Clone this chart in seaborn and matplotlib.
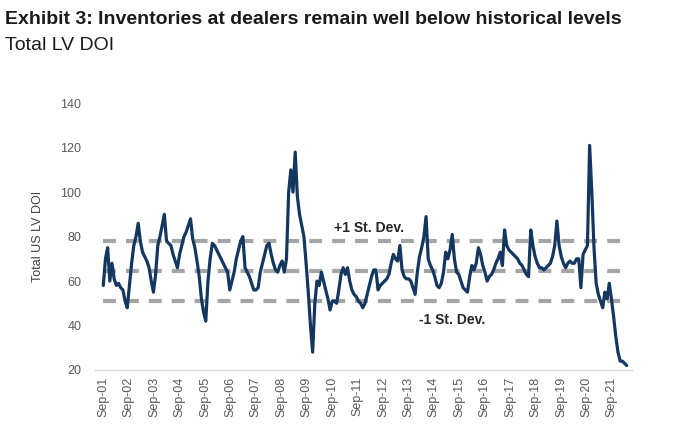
import numpy as np
import pandas as pd
import matplotlib
matplotlib.use("Agg")
import matplotlib.pyplot as plt
import seaborn as sns

# Monthly Total US LV DOI, Sep-01 .. Sep-21
doi = [
    58, 70, 75, 60, 68, 61, 58, 59, 57, 56, 51, 48,   # Sep-01 ..
    58, 68, 76, 80, 86, 78, 73, 71, 69, 66, 60, 55,   # Sep-02 ..
    63, 76, 80, 85, 90, 78, 77, 76, 72, 69, 66, 72,   # Sep-03 ..
    76, 80, 82, 85, 88, 79, 75, 69, 62, 52, 46, 42,   # Sep-04 ..
    60, 70, 77, 76, 74, 72, 70, 68, 66, 64, 56, 60,   # Sep-05 ..
    64, 70, 74, 78, 80, 66, 64, 62, 59, 56, 56, 57,   # Sep-06 ..
    64, 68, 72, 76, 77, 72, 68, 65, 64, 67, 69, 64,   # Sep-07 ..
    70, 100, 110, 100, 118, 98, 90, 85, 80, 68, 55, 40,  # Sep-08 ..
    28, 50, 60, 58, 64, 60, 56, 52, 47, 51, 51, 50,   # Sep-09 ..
    56, 63, 66, 63, 66, 60, 56, 54, 53, 51, 50, 48,   # Sep-10 ..
    50, 54, 58, 62, 65, 65, 56, 58, 59, 60, 61, 63,   # Sep-11 ..
    68, 72, 70, 69, 76, 65, 62, 61, 61, 60, 57, 54,   # Sep-12 ..
    64, 71, 75, 80, 89, 70, 67, 65, 62, 58, 57, 59,   # Sep-13 ..
    64, 73, 70, 74, 81, 70, 64, 63, 60, 57, 56, 55,   # Sep-14 ..
    62, 67, 65, 68, 75, 72, 67, 64, 60, 62, 63, 65,   # Sep-15 ..
    68, 70, 73, 67, 83, 76, 74, 73, 72, 71, 70, 68,   # Sep-16 ..
    67, 65, 63, 62, 83, 76, 71, 68, 66, 66, 65, 66,   # Sep-17 ..
    67, 68, 71, 76, 87, 76, 71, 68, 66, 68, 69, 68,   # Sep-18 ..
    68, 70, 70, 57, 72, 74, 76, 121, 100, 75, 59, 54, # Sep-19 ..
    51, 48, 55, 52, 59, 52, 44, 35, 28, 24, 24, 23,   # Sep-20 ..
    22,                                               # Sep-21
]
plus_sd = 78.0
mean_level = 64.5
minus_sd = 51.0
tick_labels = [f"Sep-{y:02d}" for y in range(1, 22)]

df = pd.DataFrame({"month": np.arange(len(doi)), "doi": doi})

sns.set_theme(style="white")
plt.rcParams["font.family"] = ["Liberation Sans", "DejaVu Sans"]

fig = plt.figure(figsize=(6.8, 4.41), dpi=100)
ax = fig.add_axes([0.140, 0.161, 0.789, 0.605])

dash_kw = dict(color="#a5a5a5", linewidth=3.0, dashes=(3.1, 2.4), zorder=1)
for lvl in (plus_sd, mean_level, minus_sd):
    ax.plot([0, 241.5], [lvl, lvl], **dash_kw)

sns.lineplot(data=df, x="month", y="doi", ax=ax, color="#14375f",
             linewidth=2.3, zorder=3)

ax.set_xlim(-3.7, 242.3)
ax.set_ylim(20, 140)
ax.set_yticks(np.arange(20, 141, 20))
ax.tick_params(axis="y", labelsize=9, colors="#595959", length=0, pad=10)
ax.set_xticks(np.arange(len(tick_labels)) * 11.66)
ax.set_xticklabels(tick_labels, rotation=90, fontsize=9, color="#595959")
ax.tick_params(axis="x", length=0, pad=5)
ax.set_xlabel("")
ax.set_ylabel("Total US LV DOI", fontsize=9, color="#404040", labelpad=12)

for side in ("top", "right", "left"):
    ax.spines[side].set_visible(False)
ax.spines["bottom"].set_color("#d9d9d9")
ax.spines["bottom"].set_linewidth(1.0)

ax.text(122, 84, "+1 St. Dev.", ha="center", va="center", fontsize=10,
        fontweight="bold", color="#262626")
ax.text(160, 42.5, "-1 St. Dev.", ha="center", va="center", fontsize=10,
        fontweight="bold", color="#262626")

fig.text(0.008, 0.955, "Exhibit 3: Inventories at dealers remain well below historical levels",
         fontsize=14, fontweight="bold", color="#1a1a1a", va="center")
fig.text(0.008, 0.897, "Total LV DOI", fontsize=14, color="#1a1a1a", va="center")

fig.savefig("out.png", dpi=100, facecolor="white")
